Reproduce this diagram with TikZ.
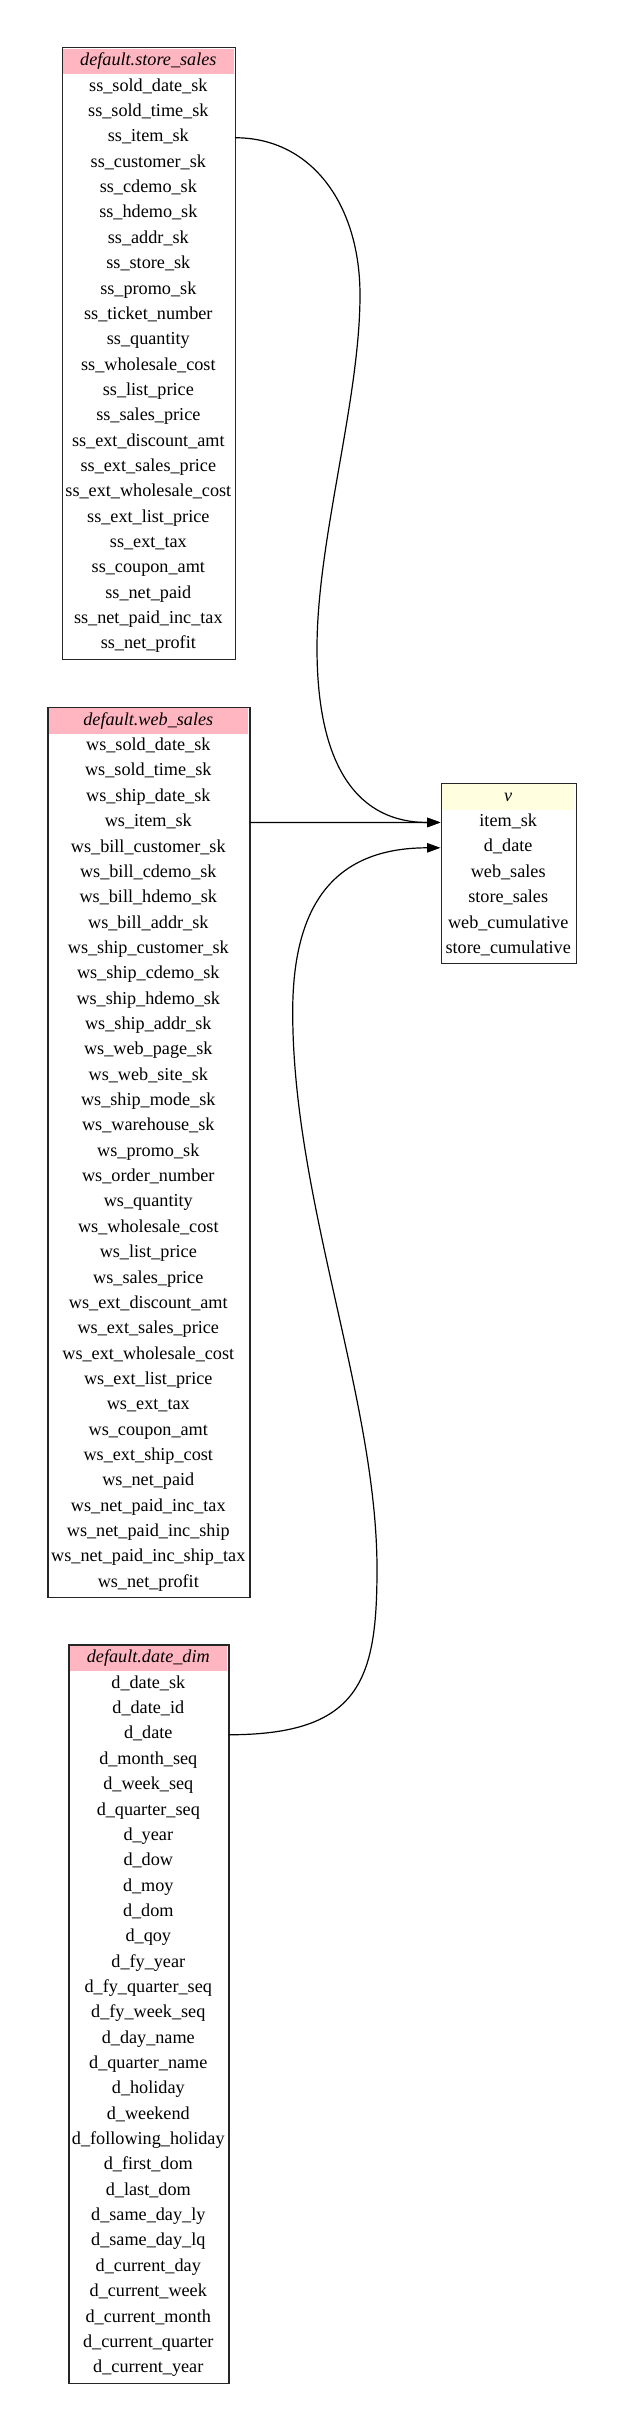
\documentclass[tikz,border=0pt]{standalone}
\usepackage{fontspec}
\setmainfont{Liberation Serif}
\usetikzlibrary{arrows.meta}
\definecolor{hdrpink}{HTML}{FFB6C1}
\definecolor{hdryellow}{HTML}{FFFFE0}
\tikzset{
  cell/.style={inner sep=0pt, minimum height=25.35pt, text height=0.68em, text depth=0.22em, align=center},
  frame/.style={draw=black!85, line width=1.2pt, inner sep=0pt},
  edge/.style={draw=black, line width=1.2pt, -{Triangle[length=13.5pt,width=9.5pt]}}
}
\newcommand{\dbtable}[8]{%
  \pgfmathsetmacro\tw{#3-#2}%
  \pgfmathsetmacro\tcx{(#2+#3)/2}%
  \pgfmathsetmacro\th{14.4+25.35*#8+14.0}%
  \fill[#6] (#2+1.5,#4+1.7) rectangle (#3-1.5,#4+27.1);
  \node[cell, minimum width=\tw pt] (#1h) at (\tcx,#4+14.4) {\textit{#5}};
  \foreach \r [count=\i] in {#7} {
    \node[cell, minimum width=\tw pt] (#1\i) at (\tcx,#4+14.4+25.35*\i) {\r};
  }
  \node[frame, minimum width=\tw pt, minimum height=\th pt, anchor=north west] (#1box) at (#2,#4) {};
}
\begin{document}
\begin{tikzpicture}[x=1pt,y=-1pt]
\fontsize{18.2}{22}\selectfont
\useasboundingbox (0,0) rectangle (623,2430);
\dbtable{ss}{61.7}{235}{47.3}{default.store\_sales}{hdrpink}{ss\_sold\_date\_sk,ss\_sold\_time\_sk,ss\_item\_sk,ss\_customer\_sk,ss\_cdemo\_sk,ss\_hdemo\_sk,ss\_addr\_sk,ss\_store\_sk,ss\_promo\_sk,ss\_ticket\_number,ss\_quantity,ss\_wholesale\_cost,ss\_list\_price,ss\_sales\_price,ss\_ext\_discount\_amt,ss\_ext\_sales\_price,ss\_ext\_wholesale\_cost,ss\_ext\_list\_price,ss\_ext\_tax,ss\_coupon\_amt,ss\_net\_paid,ss\_net\_paid\_inc\_tax,ss\_net\_profit}{23}
\dbtable{ws}{47.3}{249.3}{706.7}{default.web\_sales}{hdrpink}{ws\_sold\_date\_sk,ws\_sold\_time\_sk,ws\_ship\_date\_sk,ws\_item\_sk,ws\_bill\_customer\_sk,ws\_bill\_cdemo\_sk,ws\_bill\_hdemo\_sk,ws\_bill\_addr\_sk,ws\_ship\_customer\_sk,ws\_ship\_cdemo\_sk,ws\_ship\_hdemo\_sk,ws\_ship\_addr\_sk,ws\_web\_page\_sk,ws\_web\_site\_sk,ws\_ship\_mode\_sk,ws\_warehouse\_sk,ws\_promo\_sk,ws\_order\_number,ws\_quantity,ws\_wholesale\_cost,ws\_list\_price,ws\_sales\_price,ws\_ext\_discount\_amt,ws\_ext\_sales\_price,ws\_ext\_wholesale\_cost,ws\_ext\_list\_price,ws\_ext\_tax,ws\_coupon\_amt,ws\_ext\_ship\_cost,ws\_net\_paid,ws\_net\_paid\_inc\_tax,ws\_net\_paid\_inc\_ship,ws\_net\_paid\_inc\_ship\_tax,ws\_net\_profit}{34}
\dbtable{dd}{68.3}{228.3}{1644.3}{default.date\_dim}{hdrpink}{d\_date\_sk,d\_date\_id,d\_date,d\_month\_seq,d\_week\_seq,d\_quarter\_seq,d\_year,d\_dow,d\_moy,d\_dom,d\_qoy,d\_fy\_year,d\_fy\_quarter\_seq,d\_fy\_week\_seq,d\_day\_name,d\_quarter\_name,d\_holiday,d\_weekend,d\_following\_holiday,d\_first\_dom,d\_last\_dom,d\_same\_day\_ly,d\_same\_day\_lq,d\_current\_day,d\_current\_week,d\_current\_month,d\_current\_quarter,d\_current\_year}{28}
\dbtable{v}{440.7}{575.7}{782.7}{v}{hdryellow}{item\_sk,d\_date,web\_sales,store\_sales,web\_cumulative,store\_cumulative}{6}
% edges
\draw[edge] (ss3.east) .. controls (312,137.75) and (360,205) .. (360,295)
  .. controls (360,400) and (317,540) .. (317,648)
  .. controls (317,770) and (360,822.5) .. (v1.west);
\draw[edge] (ws4.east) -- (v1.west);
\draw[edge] (dd3.east) .. controls (360,1734.75) and (377,1680) .. (377,1569)
  .. controls (377,1400) and (292.7,1200) .. (292.7,1012)
  .. controls (292.7,910) and (330,847.8) .. (v2.west);
\end{tikzpicture}
\end{document}
